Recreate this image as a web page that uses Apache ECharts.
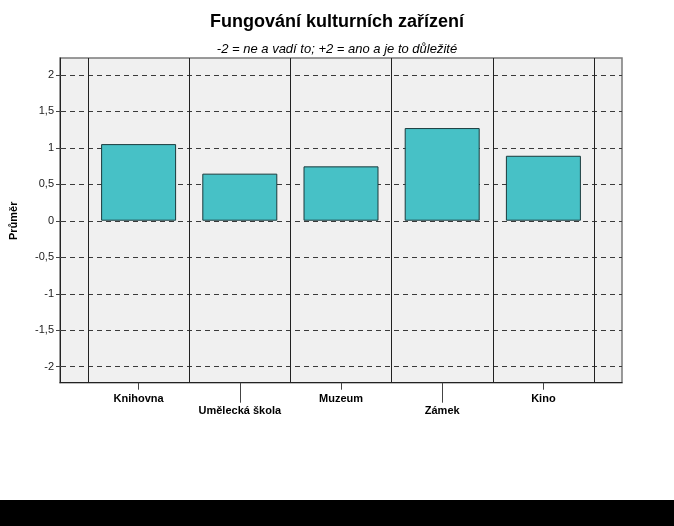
<!DOCTYPE html>
<html>
<head>
<meta charset="utf-8">
<script src="https://cdn.jsdelivr.net/npm/echarts@6/dist/echarts.min.js"></script>
<style>
  html, body { margin: 0; padding: 0; background: #fff; }
  #chart { width: 674px; height: 526px; }
</style>
</head>
<body>
<div id="chart"></div>
<script>
const categories = ['Knihovna', 'Umělecká škola', 'Muzeum', 'Zámek', 'Kino'];
const means = [1.05, 0.645, 0.745, 1.27, 0.89];
const yTicks = { min: -2, max: 2, step: 0.5 };
const frameRange = { min: -2.22, max: 2.23 };

const chart = echarts.init(document.getElementById('chart'));
const font = '"Liberation Sans", Arial, sans-serif';

const hiddenBits = { axisTick: { show: false }, axisLabel: { show: false }, splitLine: { show: false } };

const option = {
  backgroundColor: '#ffffff',
  animation: false,
  title: [
    { text: 'Fungování kulturních zařízení', left: 'center', top: 8,
      textStyle: { fontFamily: font, fontSize: 18, fontWeight: 'bold', color: '#000' } },
    { text: '-2 = ne a vadí to; +2 = ano a je to důležité', left: 'center', top: 38,
      textStyle: { fontFamily: font, fontSize: 13, fontStyle: 'italic', fontWeight: 'normal', color: '#000' } }
  ],
  graphic: [
    { type: 'rect', shape: { x: 0, y: 500, width: 674, height: 26 }, style: { fill: '#000' }, z: 100 }
  ],
  grid: [
    { left: 60, top: 58, width: 562, height: 324.7, show: true, backgroundColor: '#f0f0f0',
      borderColor: '#7a7a7a', borderWidth: 1.5 },
    { left: 60, top: 75, width: 562, height: 291.7 },
    { left: 88, top: 58, width: 506, height: 324.7 }
  ],
  xAxis: [
    Object.assign({ gridIndex: 0, type: 'value', min: 0, max: 1, position: 'bottom',
      axisLine: { show: true, onZero: false, lineStyle: { color: '#222', width: 1 } } }, hiddenBits),
    { gridIndex: 1, type: 'value', show: false },
    { gridIndex: 2, type: 'category', data: categories, position: 'bottom',
      axisLine: { show: false, onZero: false },
      axisTick: { show: true, alignWithLabel: true, length: 7, lineStyle: { color: '#444' },
        interval: (i) => i % 2 === 0 },
      axisLabel: { interval: (i) => i % 2 === 0, margin: 11, fontFamily: font, fontSize: 11,
        fontWeight: 'bold', color: '#000' },
      splitLine: { show: true, interval: 0, lineStyle: { color: '#222', width: 1, type: 'solid' } }
    },
    { gridIndex: 2, type: 'category', data: categories, position: 'bottom', offset: 0,
      axisLine: { show: false, onZero: false },
      axisTick: { show: true, alignWithLabel: true, length: 20, lineStyle: { color: '#444' },
        interval: (i) => i % 2 === 1 },
      axisLabel: { interval: (i) => i % 2 === 1, margin: 23, fontFamily: font, fontSize: 11,
        fontWeight: 'bold', color: '#000' },
      splitLine: { show: false }
    }
  ],
  yAxis: [
    Object.assign({ gridIndex: 0, type: 'value', min: frameRange.min, max: frameRange.max, position: 'left',
      axisLine: { show: true, onZero: false, lineStyle: { color: '#222', width: 1 } } }, hiddenBits),
    { gridIndex: 1, type: 'value', min: yTicks.min, max: yTicks.max, interval: yTicks.step,
      name: 'Průměr', nameLocation: 'middle', nameGap: 42, nameRotate: 90,
      nameTextStyle: { fontFamily: font, fontSize: 11, fontWeight: 'bold', color: '#000' },
      axisLine: { show: false },
      axisTick: { show: true, length: 5, lineStyle: { color: '#444' } },
      axisLabel: { margin: 7, fontFamily: font, fontSize: 11, color: '#222',
        formatter: (v) => String(v).replace('.', ',') },
      splitLine: { show: true, lineStyle: { color: '#3a3a3a', width: 1, type: [5, 4] } }
    },
    { gridIndex: 2, type: 'value', min: frameRange.min, max: frameRange.max, show: false }
  ],
  series: [
    { type: 'bar', xAxisIndex: 2, yAxisIndex: 2, data: means, barWidth: 75, z: 5,
      itemStyle: { color: '#47c1c6', borderColor: '#1b3b3d', borderWidth: 1 } }
  ]
};
chart.setOption(option);
</script>
</body>
</html>
